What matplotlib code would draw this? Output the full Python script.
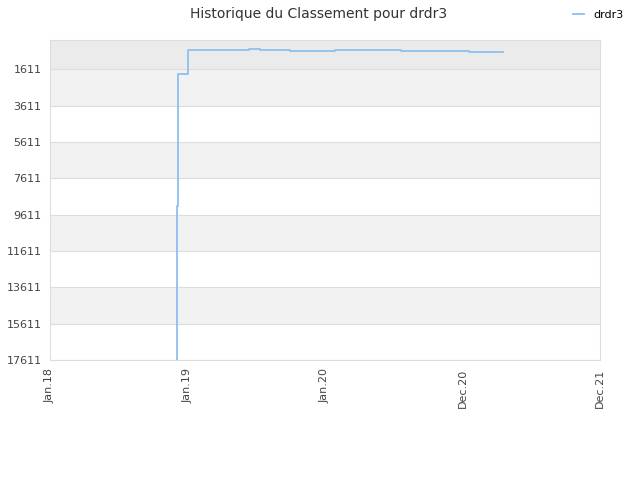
import matplotlib
matplotlib.use('agg')
import matplotlib.pyplot as plt

# ranking history (x in label-spaced units: 0 = Jan.18 ... 4 = Dec.21)
pos = [0.921, 0.921, 0.929, 1.004, 1.447, 1.527, 1.745, 2.073, 2.553, 3.047, 3.295]
rank = [17611, 9140, 1870, 550, 495, 550, 605, 550, 605, 660, 660]

xtick_labels = ['Jan.18', 'Jan.19', 'Jan.20', 'Dec.20', 'Dec.21']
ytick_vals = [1611, 3611, 5611, 7611, 9611, 11611, 13611, 15611, 17611]

fig = plt.figure(figsize=(6.4, 4.8), dpi=100)
ax = fig.add_axes([0.078, 0.25, 0.8595, 0.6667])

# background bands
ax.axhspan(0, 1611, color='#ebebeb', zorder=0, lw=0)
for i in range(len(ytick_vals) - 1):
    if i % 2 == 0:
        ax.axhspan(ytick_vals[i], ytick_vals[i + 1], color='#f2f2f2', zorder=0, lw=0)
for v in ytick_vals:
    ax.axhline(v, color='#dddddd', lw=0.8, zorder=1)

ax.plot(pos, rank, drawstyle='steps-post', color='#8fbff0', lw=1.3, zorder=3, label='drdr3')

ax.set_xlim(0, 4)
ax.set_ylim(17611, 0)
ax.set_xticks(range(5))
ax.set_xticklabels(xtick_labels, rotation=90, fontsize=8, color='#444444')
ax.set_yticks(ytick_vals)
ax.set_yticklabels([str(v) for v in ytick_vals], fontsize=8, color='#444444')
ax.tick_params(length=0, pad=6)
for s in ax.spines.values():
    s.set_color('#dddddd')

fig.suptitle('Historique du Classement pour drdr3', x=0.497, y=0.985, fontsize=10, color='#333333')
fig.legend(loc='upper right', bbox_to_anchor=(0.99, 1.0), frameon=False, fontsize=8,
           handlelength=1.0)

plt.savefig('out.png', dpi=100)
